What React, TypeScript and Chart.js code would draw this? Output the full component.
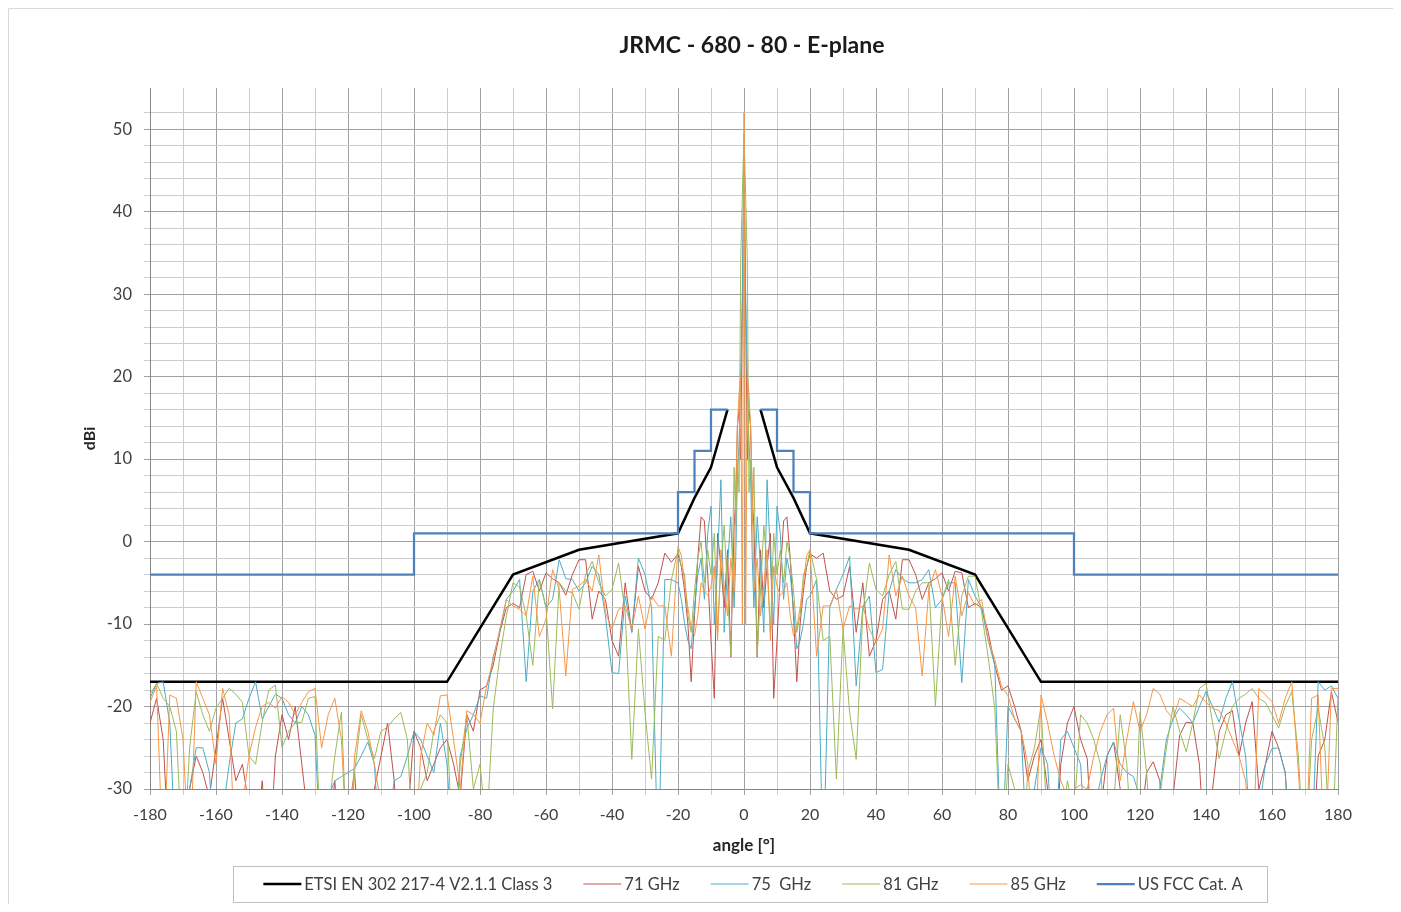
import React, { useEffect, useRef } from "react";
import { Chart, registerables } from "chart.js";

Chart.register(...registerables);

// ---------------- DATA ----------------
const angles = [
  -180, -178, -176, -174, -172, -170, -168, -166, -164, -162,
  -160, -158, -156, -154, -152, -150, -148, -146, -144, -142,
  -140, -138, -136, -134, -132, -130, -128, -126, -124, -122,
  -120, -118, -116, -114, -112, -110, -108, -106, -104, -102,
  -100, -98, -96, -94, -92, -90, -88, -86, -84, -82,
  -80, -78, -76, -74, -72, -70, -68, -66, -64, -62,
  -60, -58, -56, -54, -52, -50, -48, -46, -44, -42,
  -40, -38, -36, -34, -32, -30, -28, -26, -24, -22,
  -20, -19, -18, -17, -16, -15, -14, -13, -12, -11,
  -10, -9, -8, -7, -6, -5, -4, -3,
  -2.5, -2, -1.5, -1, -0.5, 0, 0.5, 1, 1.5, 2, 2.5,
  3, 4, 5, 6, 7, 8, 9, 10,
  11, 12, 13, 14, 15, 16, 17, 18, 19, 20,
  22, 24, 26, 28, 30, 32, 34, 36, 38, 40,
  42, 44, 46, 48, 50, 52, 54, 56, 58, 60,
  62, 64, 66, 68, 70, 72, 74, 76, 78, 80,
  82, 84, 86, 88, 90, 92, 94, 96, 98, 100,
  102, 104, 106, 108, 110, 112, 114, 116, 118, 120,
  122, 124, 126, 128, 130, 132, 134, 136, 138, 140,
  142, 144, 146, 148, 150, 152, 154, 156, 158, 160,
  162, 164, 166, 168, 170, 172, 174, 176, 178, 180,
];

const ghz71 = [
  -22, -19, -24, -40, -38, -33, -30, -26, -28, -31,
  -25, -19, -24, -29, -27, -32, -38, -29, -40, -26,
  -21, -24, -20, -27, -34, -40, -31, -36, -29, -40,
  -33, -28, -40, -35, -30, -26, -22, -29, -40, -34,
  -23, -25, -29, -27, -25, -24, -27, -31, -21, -23,
  -18, -17.5, -15, -11, -8, -7.5, -8, -4, -3.6, -6,
  -3.8, -4.5, -5, -6.5, -4, -2.2, -2.2, -9.4, -6, -7,
  -12, -13.9, -5, -11, -3, -6, -7, -5, -1.4, -2.5,
  -1.5, -3, -6, -10, -17, -9, -2, 3, 2.5, -4,
  -12, -19, 1, -3, -8, -1, -14, 2,
  5, 14, 16, 10, 28, 47, 28, 10, 16, 14, 5,
  2, -14, -1, -8, -3, 1, -19, -12,
  -4, 2.5, 3, -2, -9, -17, -10, -6, -3, -1.5,
  -2, -1.4, -6, -7, -6.6, -3, -11, -5, -13.9, -12,
  -7, -6, -9.4, -2.2, -2.2, -4, -7, -5, -4.5, -3.8,
  -6, -3.6, -3.8, -8, -7.5, -8, -11, -15, -18, -17.5,
  -20, -23, -29, -26, -24, -30, -40, -27, -22, -20,
  -24, -26.3, -40, -33, -26, -24.3, -30, -40, -31, -35,
  -28, -26.7, -29, -40, -31, -23.5, -21.9, -22, -27, -40,
  -30, -23, -21, -20.5, -26, -22, -19.4, -30, -27, -23,
  -25, -28, -40, -36, -33, -40, -26, -24, -18.2, -21.9,
];

const ghz75 = [
  -19, -17.2, -17, -22, -40, -40, -30, -25, -25, -28,
  -40, -33, -27, -22, -21.5, -19, -17, -21.5, -20, -18.5,
  -19, -21, -22, -20, -21, -23.5, -40, -31, -29, -28.5,
  -28, -27.5, -26, -24.3, -27, -40, -35, -29, -28.5, -26,
  -23, -24, -26, -28, -22, -27, -40, -26, -22.7, -21,
  -18.7, -19, -14, -11, -7, -6, -4.6, -17, -6, -4.6,
  -8, -7, -2.2, -4.5, -4.6, -6, -5, -3, -4, -9,
  -15.9, -16, -6.6, -11, -2, -4, -8, -40, -4.6, -4.6,
  -5, -7, -10, -12, -13, -8, -4, -2, -7, 1,
  4.3, -10, -2, 7.5, -11, -3, 3, -8,
  -2, 8, 12, 20, 30, 48, 30, 20, 12, 8, -2,
  -8, 3, -3, -11, 7.5, -2, -10, 4.3,
  1, -7, -2, -4, -8, -13, -12, -10, -7, -6.6,
  -4.6, -40, -8, -5.8, -4, -1.8, -17.5, -8, -6.6, -15.9,
  -15.5, -6, -3.4, -4.5, -5, -5, -4.6, -3.4, -8, -7,
  -5, -5, -17.1, -4.6, -6.6, -8, -12, -15, -40, -20,
  -21.5, -23, -40, -30, -25, -27, -40, -24, -23, -25,
  -27, -40, -33, -29, -26, -24.3, -27, -28, -28.5, -31,
  -36, -40, -30, -24, -21.5, -20.2, -21, -22, -20, -18.2,
  -20, -21.9, -19, -17, -21.5, -26, -40, -33, -27, -25.1,
  -25, -28, -40, -40, -40, -38, -17, -18, -17.5, -19,
];

const ghz81 = [
  -18.5, -17.2, -19, -20, -23, -40, -25, -18.2, -21, -23,
  -20.2, -19, -17.8, -18.5, -19.5, -26, -27, -21.9, -18, -17.4,
  -25, -23, -22, -21.9, -19, -18.8, -40, -33, -26, -20.7,
  -40, -28, -21, -24, -26.3, -23, -22.5, -21.5, -20.7, -24,
  -40, -30, -28, -23, -21, -22, -40, -27, -21, -30,
  -27, -35, -20.3, -14, -9, -5, -5.5, -9, -15, -4.6,
  -8, -20.3, -5, -6, -6.2, -8.2, -4, -2.4, -5, -6.6,
  -5.8, -2.6, -8.6, -26.4, -10.6, -20.7, -28.8, -11.5, -12, -4.6,
  -1, -3, -4, -9, -11, -6, -2, 0, -5, -1,
  -4, 1, -11, -3, 2, -6, -13.8, 9,
  2, 10, 6, 34, 42, 49.5, 42, 34, 6, 10, 2,
  9, -13.8, -6, 2, -3, -11, 1, -4,
  -1, -5, 0, -2, -6, -11, -9, -4, -3, -1,
  -4.6, -12, -11.5, -28.8, -10.6, -20.7, -26.4, -8.6, -2.6, -5.8,
  -6.6, -4, -2.4, -8.2, -8.2, -6, -5, -5, -19.9, -7,
  -4.6, -15, -6.6, -4.2, -4.2, -8.6, -14, -20.3, -40, -27,
  -30, -40, -28, -25, -20, -35, -40, -36, -29, -33,
  -21, -22, -24, -27, -40, -32, -21, -27, -40, -20.7,
  -28, -40, -31, -25, -20, -23, -25.5, -22, -17.8, -17.2,
  -22, -26.3, -23, -20, -19, -18.5, -17.8, -19, -19.5, -21,
  -22.6, -20, -18.2, -26, -40, -24, -20.2, -25, -40, -18.7,
];

const ghz85 = [
  -19.5, -17.5, -40, -18.6, -19, -24, -40, -17, -19, -21,
  -27, -17.8, -21, -40, -32, -26, -22.5, -20, -19.5, -20.2,
  -18.8, -19.5, -21, -19.5, -18.2, -17.8, -25, -21, -19, -24,
  -40, -26, -20.5, -23, -27, -32, -40, -40, -37, -30,
  -40, -26, -22, -23.5, -18.7, -18.6, -24, -30, -20.5, -21,
  -22, -17.5, -14.3, -10.6, -7, -7.8, -8.2, -9, -4.2, -11.5,
  -9.4, -3.4, -5.8, -16.3, -5.8, -5.4, -4.6, -6, -1.6, -8.6,
  -10.6, -8.2, -7.8, -10.6, -6.6, -10.6, -6.6, -7.8, -7.8, -13.9,
  -0.6, -1.7, -5, -8, -10.5, -11.4, -9, -5, -6, -6.5,
  -5.4, -3, -12, -1, -5.4, -9, -2, -6,
  6, 14, 18, 20, -10, 52, -10, 20, 18, 14, 6,
  -6, -2, -9, -5.4, -1, -12, -3, -5.4,
  -6.5, -6, -5, -9, -11.4, -10.5, -8, -5, -1.7, -1,
  -13.9, -7.8, -7.8, -5.8, -10.6, -7.8, -8.2, -7.8, -10.6, -12.3,
  -10.6, -1.6, -6.6, -4.2, -6.6, -8, -16.3, -5.8, -3.4, -6.6,
  -11.5, -4.2, -9, -6.2, -7.8, -7, -11.9, -14.3, -17.5, -18.7,
  -21.5, -23, -27, -40, -18.6, -22, -26, -29, -31, -30,
  -29.5, -30, -26, -23, -21, -20.2, -29, -24, -19.4, -23,
  -21, -17.8, -18.5, -20.5, -21.5, -19, -19.5, -20, -18.6, -19.5,
  -20.2, -20.5, -22, -24, -26, -29, -40, -17.8, -18.6, -19.4,
  -22, -19, -17, -28, -40, -19, -18.6, -40, -17.8, -17.8,
];

// ETSI EN 302 217-4 mask (null = gap around boresight)
const etsiX = [-180, -90, -70, -50, -20, -15, -10, -5, 0, 5, 10, 15, 20, 50, 70, 90, 180];
const etsiY = [-17, -17, -4, -1, 1, 5.3, 9, 16, null, 16, 9, 5.3, 1, -1, -4, -17, -17];

// US FCC Cat. A mask (stepped: level holds until the next x)
const fccX = [-180, -100, -20, -15, -10, -5, 0, 5, 10, 15, 20, 100, 180];
const fccY = [-4, 1, 6, 11, 16, 16, null, 16, 11, 6, 1, -4, -4];

const legendLabels = [
  "ETSI EN 302 217-4 V2.1.1 Class 3",
  "71 GHz",
  "75  GHz",
  "81 GHz",
  "85 GHz",
  "US FCC Cat. A",
];

const chartTitle = "JRMC - 680 - 80 - E-plane";
const xTitle = "angle [°]";
const yTitle = "dBi";

// ---------------- STYLE ----------------
const FONT = 'Lato, "Open Sans", "Liberation Sans", sans-serif';
const COLORS = ["#000000", "#C0504D", "#4BACC6", "#9BBB59", "#F79646", "#4F81BD"];
const WIDTHS = [2.5, 1, 1, 1, 1, 2.25];
const GRID_MAJOR = "#A0A0A0";
const GRID_MINOR = "#CDCDCD";
const CANVAS_W = 1430;
const CANVAS_H = 896;

const pts = (xs: number[], ys: (number | null)[]) => xs.map((x, i) => ({ x, y: ys[i] }));

const boxLegend = {
  id: "boxLegend",
  beforeDraw(chart: any) {
    const ctx = chart.ctx;
    ctx.save();
    ctx.strokeStyle = "#D9D9D9";
    ctx.lineWidth = 1;
    ctx.beginPath();
    ctx.moveTo(0.5, CANVAS_H);
    ctx.lineTo(0.5, 0.5);
    ctx.lineTo(CANVAS_W, 0.5);
    ctx.stroke();
    ctx.restore();
  },
  afterDraw(chart: any) {
    const ctx = chart.ctx;
    const area = chart.chartArea;
    ctx.save();
    ctx.font = `16.5px ${FONT}`;
    const widths = legendLabels.map((t) => ctx.measureText(t).width);
    const SAMPLE = 38;
    const GAP_T = 3;
    const GAP_I = 31;
    const total =
      widths.reduce((a, w) => a + SAMPLE + GAP_T + w, 0) + GAP_I * (widths.length - 1);
    const center = (area.left + area.right) / 2 + 9;
    let x = center - total / 2;
    const top = area.bottom + 77;
    const h = 36;
    const yMid = top + h / 2;
    ctx.strokeStyle = "#BFBFBF";
    ctx.lineWidth = 1;
    ctx.strokeRect(Math.round(x - 30) + 0.5, top + 0.5, Math.round(total + 55), h);
    ctx.textBaseline = "middle";
    ctx.textAlign = "left";
    legendLabels.forEach((label, i) => {
      ctx.strokeStyle = COLORS[i];
      ctx.lineWidth = WIDTHS[i];
      ctx.beginPath();
      ctx.moveTo(x, yMid);
      ctx.lineTo(x + SAMPLE, yMid);
      ctx.stroke();
      ctx.fillStyle = "#404040";
      ctx.fillText(label, x + SAMPLE + GAP_T, yMid + 1);
      x += SAMPLE + GAP_T + widths[i] + GAP_I;
    });
    ctx.restore();
  },
};

export default function App() {
  const ref = useRef<HTMLCanvasElement | null>(null);

  useEffect(() => {
    if (!ref.current) return;
    const series = [ghz71, ghz75, ghz81, ghz85];
    const datasets: any[] = [
      {
        label: legendLabels[0],
        data: pts(etsiX, etsiY),
        borderColor: COLORS[0],
        borderWidth: WIDTHS[0],
        order: 6,
      },
      ...series.map((vals, k) => ({
        label: legendLabels[k + 1],
        data: pts(angles, vals),
        borderColor: COLORS[k + 1],
        borderWidth: WIDTHS[k + 1],
        order: 5 - k,
      })),
      {
        label: legendLabels[5],
        data: pts(fccX, fccY),
        borderColor: COLORS[5],
        borderWidth: WIDTHS[5],
        stepped: "before",
        order: 1,
      },
    ].map((d) => ({
      ...d,
      pointRadius: 0,
      pointHoverRadius: 0,
      tension: 0,
      fill: false,
      spanGaps: false,
      backgroundColor: d.borderColor,
    }));

    const chart = new Chart(ref.current, {
      type: "line",
      data: { datasets },
      plugins: [boxLegend],
      options: {
        responsive: false,
        animation: false,
        events: [],
        layout: { padding: { left: 67, right: 9, top: 0, bottom: 38 } },
        plugins: {
          legend: { display: false },
          tooltip: { enabled: false },
          title: {
            display: true,
            text: chartTitle,
            color: "#1A1A1A",
            font: { family: FONT, size: 23, weight: "bold", lineHeight: 1.2 },
            padding: { top: 24, bottom: 28.4 },
          },
        },
        scales: {
          x: {
            type: "linear",
            position: "bottom",
            min: -180,
            max: 180,
            ticks: {
              stepSize: 10,
              autoSkip: false,
              maxRotation: 0,
              minRotation: 0,
              padding: 10,
              color: "#404040",
              font: { family: FONT, size: 16 },
              callback: (v: any) => (Number(v) % 20 === 0 ? String(v) : ""),
            },
            grid: {
              color: (c: any) => (c.tick && c.tick.value % 20 === 0 ? GRID_MAJOR : GRID_MINOR),
              lineWidth: 1,
              tickLength: 6,
            },
            border: { color: "#868686", width: 1 },
            title: {
              display: true,
              text: xTitle,
              color: "#262626",
              font: { family: FONT, size: 17, weight: "bold" },
              padding: { top: 0, bottom: 10.5 },
            },
            afterFit: (s: any) => {
              s.height = 77;
            },
          },
          y: {
            type: "linear",
            position: "left",
            min: -30,
            max: 55,
            ticks: {
              stepSize: 2,
              autoSkip: false,
              padding: 12,
              color: "#404040",
              font: { family: FONT, size: 16.5 },
              callback: (v: any) => (Number(v) % 10 === 0 ? String(v) : ""),
            },
            afterBuildTicks: (s: any) => {
              s.ticks = s.ticks.filter((t: any) => t.value <= 54.5);
            },
            grid: {
              color: (c: any) => (c.tick && c.tick.value % 10 === 0 ? GRID_MAJOR : GRID_MINOR),
              lineWidth: 1,
              tickLength: 6,
            },
            border: { color: "#868686", width: 1 },
            title: {
              display: true,
              text: yTitle,
              color: "#262626",
              font: { family: FONT, size: 16, weight: "bold" },
              padding: { top: 5.4, bottom: 0 },
            },
            afterFit: (s: any) => {
              s.width = 75;
            },
          },
          yPad: {
            type: "linear",
            position: "right",
            display: true,
            grid: { display: false },
            ticks: { display: false },
            border: { display: false },
            afterFit: (s: any) => {
              s.width = 91;
            },
          },
        },
      } as any,
    });
    return () => chart.destroy();
  }, []);

  return (
    <div style={{ width: 1385, height: CANVAS_H, overflow: "hidden", background: "#fff" }}>
      <canvas
        ref={ref}
        width={CANVAS_W}
        height={CANVAS_H}
        style={{ display: "block", width: CANVAS_W, height: CANVAS_H }}
      />
    </div>
  );
}
